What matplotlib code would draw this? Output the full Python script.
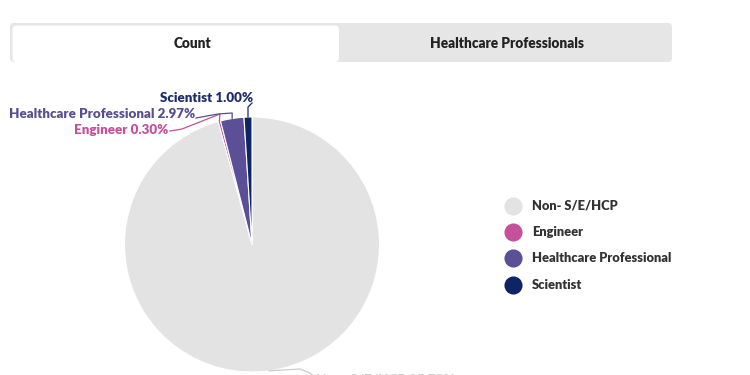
import matplotlib
matplotlib.use("Agg")
import matplotlib.pyplot as plt
from matplotlib.patches import FancyBboxPatch
import numpy as np

categories = ["Non- S/E/HCP", "Engineer", "Healthcare Professional", "Scientist"]
shares = [95.73, 0.30, 2.97, 1.00]
colors = ["#e3e3e3", "#c4519a", "#5b4f97", "#0e2565"]
label_colors = ["#cccccc", "#c4509a", "#574f8e", "#1c2b6b"]
tabs = ["Count", "Healthcare Professionals"]

FONT = "Lato"
WEIGHT = "heavy"
W, H = 750, 375
fig = plt.figure(figsize=(7.5, 3.75), dpi=100)
ax = fig.add_axes([0, 0, 1, 1])

def Y(y_top):
    return H - y_top

# ---- tabs ----
ax.add_patch(FancyBboxPatch((10, Y(62)), 662, 39, boxstyle="round,pad=0,rounding_size=4",
                            fc="#e6e6e6", ec="none", zorder=1))
ax.add_patch(FancyBboxPatch((12.5, Y(62)), 326.5, 36.5, boxstyle="round,pad=0,rounding_size=4",
                            fc="white", ec="none", zorder=2))
ax.text(193, Y(43), tabs[0], ha="center", va="center", fontsize=9.8,
        fontweight=WEIGHT, color="#222222", family=FONT, zorder=3)
ax.text(507, Y(43), tabs[1], ha="center", va="center", fontsize=9.8,
        fontweight=WEIGHT, color="#222222", family=FONT, zorder=3)

# ---- pie ----
cx, cy, r = 252, Y(244.5), 127.5
wedges, _ = ax.pie(shares, colors=colors, startangle=90, counterclock=False,
                   center=(cx, cy), radius=r,
                   wedgeprops=dict(edgecolor="white", linewidth=0.8))

def edge_point(w):
    a = np.deg2rad((w.theta1 + w.theta2) / 2)
    return cx + r * np.cos(a), cy + r * np.sin(a)

# label layout: (text anchor x, text y from top, ha, connector via-points in top coords)
layout = {
    3: dict(x=253, y=98, ha="right", via=[(250, 107), (252, 103)]),
    2: dict(x=195, y=114, ha="right", via=[(233, 113), (218, 114), (196, 118)]),
    1: dict(x=168, y=130, ha="right", via=[(220, 114), (182, 129), (170, 131)]),
    0: dict(x=316, y=379, ha="left", via=[(300, 369), (308, 372), (314, 376)]),
}
for i, w in enumerate(wedges):
    L = layout[i]
    ex, ey = edge_point(w)
    xs = [ex] + [p[0] for p in L["via"]]
    ys = [ey] + [Y(p[1]) for p in L["via"]]
    if i in (2, 3):
        xs[1] = ex
    ax.plot(xs, ys, color=label_colors[i], lw=0.9, zorder=4, solid_joinstyle="round")
    ax.text(L["x"], Y(L["y"]), f"{categories[i]} {shares[i]:.2f}%", ha=L["ha"],
            va="center", fontsize=9.6, fontweight=WEIGHT, color=label_colors[i],
            family=FONT, zorder=5)

# ---- legend ----
leg_y = [206, 232, 258, 285]
for i, cat in enumerate(categories):
    ax.scatter([513], [Y(leg_y[i])], s=170, color=colors[i], zorder=5, linewidths=0)
    ax.text(532, Y(leg_y[i]), cat, ha="left", va="center", fontsize=9.25,
            fontweight=WEIGHT, color="#333333", family=FONT, zorder=5)

ax.set_xlim(0, W)
ax.set_ylim(0, H)
ax.set_aspect("equal")
ax.axis("off")
fig.savefig("out.png", dpi=100)
